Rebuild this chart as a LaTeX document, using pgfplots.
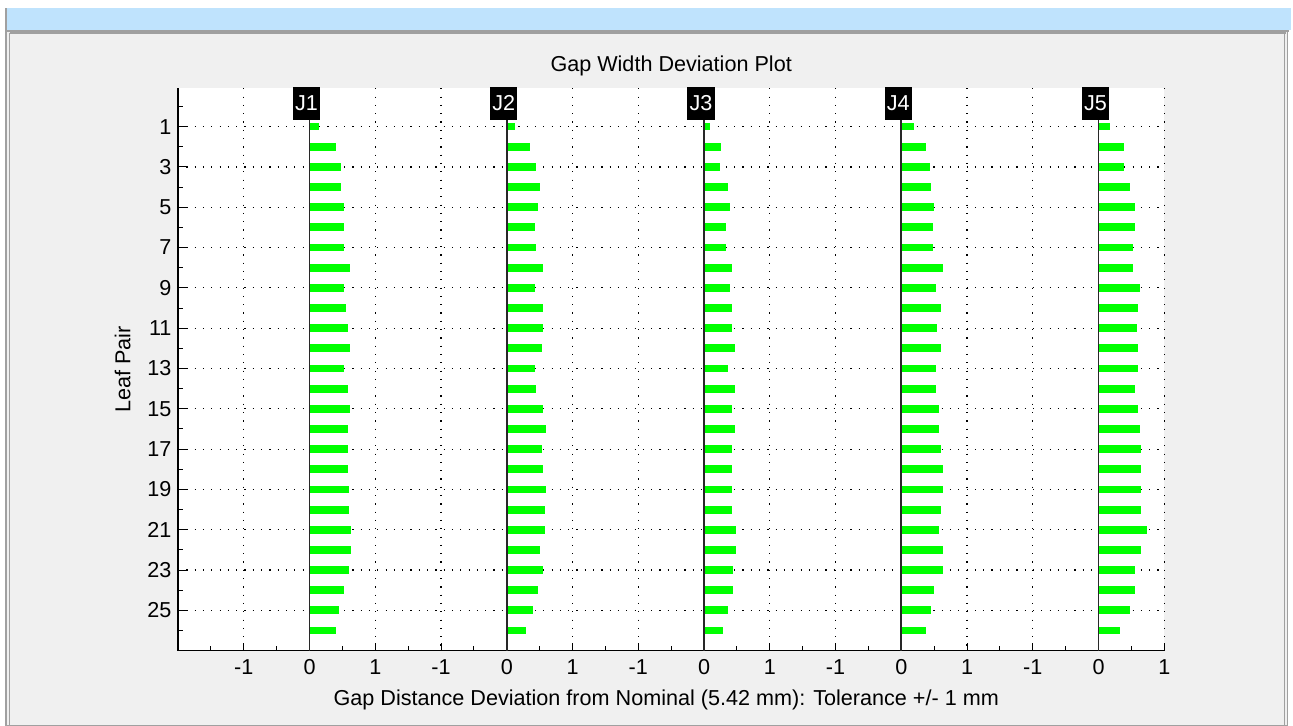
\documentclass[border=0pt]{standalone}
\usepackage{fontspec}
\setmainfont{Liberation Sans}
\usepackage{pgfplots}
\pgfplotsset{compat=1.18}
\usepackage{pgfplotstable}
\definecolor{panelbg}{RGB}{240,240,240}
\definecolor{titlebar}{RGB}{191,227,253}
\definecolor{border}{RGB}{160,160,160}
\definecolor{bargreen}{RGB}{0,255,0}
\definecolor{zeroline}{RGB}{40,40,40}
\newcommand\lbl{\fontsize{21.6bp}{26bp}\selectfont}

\pgfplotstableread{
leaf j1   j2   j3   j4   j5
1    0.14 0.12 0.09 0.20 0.17
2    0.40 0.35 0.26 0.38 0.38
3    0.48 0.45 0.24 0.43 0.38
4    0.48 0.50 0.37 0.45 0.48
5    0.53 0.48 0.39 0.50 0.55
6    0.53 0.43 0.34 0.48 0.55
7    0.53 0.45 0.34 0.48 0.53
8    0.61 0.55 0.42 0.63 0.53
9    0.53 0.43 0.39 0.53 0.63
10   0.56 0.55 0.42 0.60 0.60
11   0.58 0.55 0.42 0.55 0.58
12   0.61 0.53 0.47 0.60 0.60
13   0.53 0.43 0.37 0.53 0.60
14   0.58 0.45 0.47 0.53 0.55
15   0.61 0.55 0.42 0.58 0.60
16   0.58 0.60 0.47 0.58 0.63
17   0.58 0.53 0.42 0.60 0.65
18   0.58 0.55 0.42 0.63 0.65
19   0.60 0.60 0.42 0.63 0.65
20   0.60 0.58 0.42 0.60 0.65
21   0.63 0.58 0.49 0.58 0.73
22   0.63 0.50 0.49 0.63 0.65
23   0.60 0.55 0.44 0.63 0.55
24   0.53 0.48 0.44 0.50 0.55
25   0.45 0.40 0.37 0.45 0.48
26   0.40 0.30 0.29 0.38 0.32
}\gapdata

\begin{document}
\begin{tikzpicture}
\useasboundingbox (0bp,0bp) rectangle (1293bp,726bp);
\fill[white] (0bp,0bp) rectangle (1293bp,726bp);
\fill[titlebar] (7bp,696bp) rectangle (1291bp,718bp);
\fill[panelbg] (7bp,0bp) rectangle (1288bp,694bp);
\draw[border, line width=1.5bp] (5.75bp,0bp) -- (5.75bp,718bp);
\draw[border, line width=1.2bp] (7bp,695bp) -- (1289bp,695bp);
\draw[border, line width=1.2bp] (9.5bp,693bp) -- (1286bp,693bp);
\draw[border, line width=1.2bp] (9.5bp,0bp) -- (9.5bp,693bp);
\draw[border, line width=1.2bp] (1284.5bp,0bp) -- (1284.5bp,693bp);
\draw[border, line width=1.2bp] (1287.5bp,0bp) -- (1287.5bp,695bp);
\draw[border, line width=1bp] (7bp,1bp) -- (1288bp,1bp);

\begin{axis}[
  at={(178bp,75.3bp)}, anchor=south west,
  scale only axis, width=986.3bp, height=562.4bp,
  xmin=-2, xmax=13, ymin=-0.9, ymax=27, y dir=reverse,
  clip=false,
  axis background/.style={fill=white},
  axis x line*=bottom, axis y line*=left,
  axis line style={black, line width=1.3bp},
  tick align=inside,
  tick style={black, line width=1bp},
  major tick length=8bp, minor tick length=5bp,
  xtick={-1,0,...,13},
  xticklabels={-1,0,1,-1,0,1,-1,0,1,-1,0,1,-1,0,1},
  minor xtick={-1.5,-0.5,...,12.5},
  ytick={1,3,...,25},
  yticklabels={1,3,5,7,9,11,13,15,17,19,21,23,25},
  minor ytick={0,2,...,26},
  grid=major,
  major grid style={black, line width=1.2bp, dash pattern=on 1.2bp off 7.1bp},
  xticklabel style={font=\lbl, yshift=-5bp},
  yticklabel style={font=\lbl, xshift=-3bp},
  title={Gap Width Deviation Plot},
  title style={at={(axis description cs:0.5,1.03)}, anchor=center, yshift=0pt, font=\lbl},
  xlabel={Gap Distance Deviation from Nominal (5.42 mm): Tolerance +/- 1 mm},
  xlabel style={at={(axis description cs:0.495,-0.088)}, anchor=center, font=\lbl},
  ylabel={Leaf Pair},
  ylabel style={at={(axis description cs:-0.056,0.5)}, anchor=center, font=\lbl},
]
\addplot[bargreen, line width=7.8bp, mark=none, -, quiver={u=\thisrow{j1}, v=0}] table[x expr=0, y=leaf] {\gapdata};
\addplot[bargreen, line width=7.8bp, mark=none, -, quiver={u=\thisrow{j2}, v=0}] table[x expr=3, y=leaf] {\gapdata};
\addplot[bargreen, line width=7.8bp, mark=none, -, quiver={u=\thisrow{j3}, v=0}] table[x expr=6, y=leaf] {\gapdata};
\addplot[bargreen, line width=7.8bp, mark=none, -, quiver={u=\thisrow{j4}, v=0}] table[x expr=9, y=leaf] {\gapdata};
\addplot[bargreen, line width=7.8bp, mark=none, -, quiver={u=\thisrow{j5}, v=0}] table[x expr=12, y=leaf] {\gapdata};
\addplot[zeroline, line width=1.7bp, mark=none] coordinates {(0,-0.9) (0,27)};
\addplot[zeroline, line width=1.7bp, mark=none] coordinates {(3,-0.9) (3,27)};
\addplot[zeroline, line width=1.7bp, mark=none] coordinates {(6,-0.9) (6,27)};
\addplot[zeroline, line width=1.7bp, mark=none] coordinates {(9,-0.9) (9,27)};
\addplot[zeroline, line width=1.7bp, mark=none] coordinates {(12,-0.9) (12,27)};
\foreach \g/\name in {0/J1,3/J2,6/J3,9/J4,12/J5}{
  \edef\tmp{\noexpand\node[fill=black, text=white, inner sep=0pt, minimum width=27.3bp, minimum height=33.3bp, anchor=north, xshift=-3bp, yshift=1.6bp, font=\noexpand\lbl] at (axis cs:\g,-0.9) {\name};}
  \tmp
}
\end{axis}
\end{tikzpicture}
\end{document}
